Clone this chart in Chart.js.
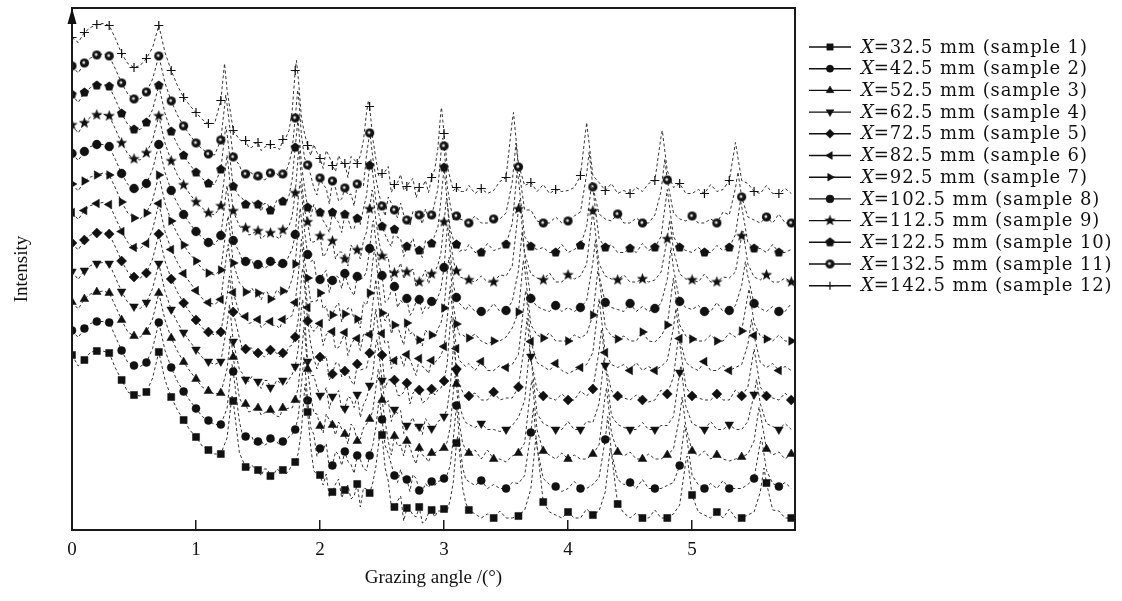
<!DOCTYPE html>
<html>
<head>
<meta charset="utf-8">
<title>Grazing angle scans</title>
<script src="https://cdn.jsdelivr.net/npm/chart.js@4.4.0/dist/chart.umd.min.js"></script>
<style>
  html, body { margin: 0; padding: 0; background: #fff; }
  #wrap { position: relative; width: 1122px; height: 601px; }
</style>
</head>
<body>
<div id="wrap"><canvas id="scanChart" width="1122" height="601"></canvas></div>
<script>
// ===============================
// Data
// ===============================

// grazing angle grid, deg
const angleGrid = [
  0, 0.05, 0.1, 0.15, 0.2, 0.25, 0.3, 0.35, 0.4, 0.45,
  0.5, 0.55, 0.6, 0.65, 0.7, 0.75, 0.8, 0.85, 0.9, 0.95,
  1, 1.05, 1.1, 1.15, 1.2, 1.25, 1.3, 1.35, 1.4, 1.45,
  1.5, 1.55, 1.6, 1.65, 1.7, 1.75, 1.8, 1.85, 1.9, 1.95,
  2, 2.05, 2.1, 2.15, 2.2, 2.25, 2.3, 2.35, 2.4, 2.45,
  2.5, 2.55, 2.6, 2.65, 2.7, 2.75, 2.8, 2.85, 2.9, 2.95,
  3, 3.05, 3.1, 3.15, 3.2, 3.25, 3.3, 3.35, 3.4, 3.45,
  3.5, 3.55, 3.6, 3.65, 3.7, 3.75, 3.8, 3.85, 3.9, 3.95,
  4, 4.05, 4.1, 4.15, 4.2, 4.25, 4.3, 4.35, 4.4, 4.45,
  4.5, 4.55, 4.6, 4.65, 4.7, 4.75, 4.8, 4.85, 4.9, 4.95,
  5, 5.05, 5.1, 5.15, 5.2, 5.25, 5.3, 5.35, 5.4, 5.45,
  5.5, 5.55, 5.6, 5.65, 5.7, 5.75, 5.8
];

// extra readings in the noisy middle range, deg
const midAngles = [
  1.375, 1.425, 1.475, 1.525, 1.575, 1.625, 1.675, 1.725, 1.775, 1.825,
  1.875, 1.925, 1.975, 2.025, 2.075, 2.125, 2.175, 2.225, 2.275, 2.325,
  2.375, 2.425, 2.475, 2.525, 2.575, 2.625, 2.675, 2.725, 2.775, 2.825,
  2.875, 2.925, 2.975, 3.025, 3.075, 3.125, 3.175
];

const angleTicks = [0, 1, 2, 3, 4, 5];

const samplePositions = ["32.5", "42.5", "52.5", "62.5", "72.5", "82.5",
                         "92.5", "102.5", "112.5", "122.5", "132.5", "142.5"];

// vertical shift of each curve (a.u.)
const stackShift = [12, 41.5, 71, 100.5, 130, 159.5, 189, 218.5, 248, 277.5, 307, 336.5];

// intensity of each sample on angleGrid (a.u., before shift)
const intensity1 = [163, 152, 158, 166, 167, 167, 165, 150, 138, 126, 123, 122, 126, 140, 166, 138, 121, 108, 98, 88, 81,
  72, 68, 64, 64, 80, 117, 65, 51, 53, 48,  49, 42, 49, 48, 48, 56, 88, 106, 47, 43,
  44, 26, 39, 28, 19, 34, 30, 25, 51, 83,  37, 11, 22, 10, 3, 11, -3, 8, 7, 9,
  18, 75, 30, 8, 4, 0, 4, 0, 7, 0,  0, 2, 8, 29, 73, 16, 6, 3, 0, 6,
  0, 0, 9, 3, 7, 26, 64, 14, 5, 0,  5, 0, 0, 8, 0, 0, 4, 13, 57, 23,
  6, 3, 0, 6, 0, 9, 0, 0, 3, 6,  26, 35, 8, 7, 0, 0];
const intensity2 = [158, 151, 160, 165, 167, 167, 166, 152, 138, 126, 123, 122, 126, 140, 166, 138, 121, 107, 97, 88, 80,
  72, 68, 64, 64, 80, 117, 67, 52, 52, 47,  43, 50, 47, 47, 52, 59, 104, 88, 54, 40,
  45, 23, 34, 37, 24, 33, 20, 33, 61, 69,  35, 13, 19, 9, 14, -2, 5, 7, 7, 10,
  23, 83, 21, 7, 3, 8, 0, 4, 0, 0,  6, 5, 13, 56, 41, 10, 4, 2, -3, 0,
  7, 0, 0, 4, 11, 49, 36, 9, 4, 6,  0, 9, 0, 0, 0, 3, 6, 23, 57, 13,
  4, 0, 5, 0, 8, 0, 0, 0, 4, 10,  46, 18, 5, 2, 6, 0];
const intensity3 = [157, 150, 160, 165, 167, 168, 166, 153, 139, 127, 123, 122, 127, 140, 166, 139, 121, 108, 97, 88, 80,
  72, 68, 65, 66, 90, 102, 61, 55, 48, 51,  46, 49, 43, 51, 51, 59, 104, 90, 46, 33,
  45, 34, 37, 25, 35, 18, 31, 40, 71, 59,  18, 23, 14, 18, 2, 11, 2, 6, 8, 11,
  32, 75, 16, 6, 9, 0, 9, 0, 0, -3,  3, 6, 16, 73, 29, 8, 4, 0, 6, 0,
  4, 0, 0, 5, 14, 64, 26, 7, 3, 7,  0, 0, 5, 0, 0, 4, 10, 43, 32, 8,
  3, 8, 0, 4, 0, -2, 0, 2, 5, 18,  46, 10, 4, 7, 0, 5];
const intensity4 = [158, 150, 159, 164, 166, 167, 166, 152, 138, 127, 123, 121, 127, 141, 166, 138, 120, 107, 97, 88, 80,
  72, 68, 65, 68, 104, 88, 60, 50, 53, 48,  49, 42, 49, 49, 50, 63, 122, 68, 54, 34,
  42, 33, 39, 21, 31, 35, 25, 44, 85, 49,  29, 20, 19, 4, 12, 3, 11, 1, 8, 13,
  43, 58, 13, 5, 2, 6, 0, 0, -2, 0,  4, 12, 29, 73, 16, 6, 3, 0, 0, 8,
  0, 0, 8, 7, 26, 64, 14, 5, 2, 0,  0, 7, 0, 0, 4, 4, 13, 57, 23, 6,
  3, 0, 8, 0, 0, 5, 0, 0, 8, 35,  26, 6, 3, 0, 6, 0];
const intensity5 = [157, 150, 160, 165, 167, 168, 166, 153, 139, 128, 123, 122, 127, 141, 166, 139, 121, 108, 97, 88, 80,
  72, 68, 65, 68, 104, 88, 62, 51, 52, 47,  43, 50, 47, 47, 53, 63, 122, 79, 42, 43,
  44, 26, 37, 29, 19, 36, 31, 47, 91, 45,  20, 20, 4, 17, 7, 10, -1, 11, 10, 19,
  76, 31, 8, 4, 7, 0, 0, 8, 0, 2,  2, 13, 56, 41, 10, 4, 2, 0, 6, 0,
  0, 9, 4, 11, 49, 36, 9, 4, 2, 0,  5, 0, -2, 0, 10, 6, 23, 57, 13, 4,
  2, 0, 0, 6, 0, 0, 10, 4, 13, 51,  13, 4, 2, 0, 7, 0];
const intensity6 = [158, 151, 160, 165, 167, 168, 166, 153, 139, 128, 123, 122, 127, 141, 167, 139, 121, 108, 97, 88, 80,
  72, 68, 66, 71, 119, 78, 57, 54, 48, 51,  46, 49, 45, 51, 53, 68, 131, 63, 39, 47,
  36, 39, 23, 38, 26, 32, 36, 36, 91, 37,  29, 10, 14, 16, 3, 12, 2, 10, 11, 24,
  84, 22, 7, 7, 0, 9, 0, 0, 5, 3,  6, 16, 73, 29, 8, 4, 0, 7, 0, -3,
  0, 3, 6, 18, 71, 18, 6, 3, 6, 0,  8, 0, 4, 0, 4, 10, 43, 32, 8, 3,
  0, 9, 0, 0, 5, 0, 3, 6, 26, 35,  8, 3, 7, 0, 4, 0];
const intensity7 = [157, 150, 160, 164, 166, 168, 166, 153, 139, 128, 123, 122, 128, 141, 166, 138, 120, 107, 96, 87, 80,
  72, 68, 66, 71, 119, 78, 58, 49, 53, 48,  49, 42, 51, 50, 53, 77, 122, 63, 40, 48,
  35, 26, 38, 27, 33, 22, 39, 48, 85, 28,  28, 16, 5, 18, 9, 1, 11, 6, 12, 33,
  76, 17, 6, 3, 7, 0, -3, 0, 0, 4,  13, 29, 73, 16, 6, 3, 8, 0, 0, 0,
  6, 3, 7, 26, 64, 14, 5, 2, 5, 0,  0, 9, 0, -1, 5, 16, 63, 16, 5, 2,
  0, 0, 6, 0, 0, 8, 4, 10, 46, 18,  5, 2, 0, 6, 0, 0];
const intensity8 = [158, 151, 160, 165, 167, 167, 165, 152, 138, 127, 123, 122, 128, 142, 167, 139, 121, 108, 97, 88, 80,
  74, 69, 67, 76, 126, 71, 59, 50, 52, 47,  43, 50, 49, 48, 56, 77, 122, 57, 52, 32,
  41, 31, 34, 38, 21, 35, 34, 63, 71, 36,  12, 25, 11, 13, 1, 12, 5, 10, 14, 44,
  59, 14, 5, 7, 0, 0, 0, 8, 0, 1,  10, 41, 56, 13, 5, 2, 0, 6, 0, 4,
  0, 4, 11, 49, 36, 9, 4, 2, 0, 8,  0, 5, 0, 3, 8, 32, 43, 10, 4, 2,
  6, 0, 0, 9, 0, 1, 6, 26, 35, 8,  3, 0, 5, 0, 0, 8];
const intensity9 = [157, 149, 159, 165, 167, 168, 166, 153, 139, 128, 123, 122, 129, 142, 166, 139, 121, 107, 97, 88, 80,
  74, 69, 67, 76, 126, 71, 56, 54, 48, 51,  46, 49, 45, 52, 56, 89, 104, 60, 40, 46,
  29, 41, 30, 23, 37, 32, 41, 73, 62, 26,  25, 9, 19, 10, 13, 0, 12, 8, 17, 60,
  43, 11, 4, 2, 0, 6, 0, 0, 7, 6,  16, 73, 29, 8, 4, 2, 9, 0, 0, 7,
  3, 6, 18, 71, 18, 6, 3, 2, 7, 0,  0, 3, 0, 2, 10, 43, 32, 8, 3, 2,
  0, 8, 0, 0, 5, 4, 10, 46, 18, 5,  2, 7, 0, 0, 4, 0];
const intensity10 = [158, 150, 160, 165, 167, 168, 166, 153, 139, 128, 123, 123, 130, 143, 167, 139, 121, 108, 97, 88, 80,
  74, 69, 68, 83, 119, 66, 56, 48, 51, 48,  49, 42, 52, 51, 57, 105, 88, 45, 48, 40,
  27, 40, 30, 38, 24, 34, 44, 87, 52, 26,  11, 23, 14, 6, 14, 2, 12, 9, 25, 85,
  23, 8, 3, 8, 0, 0, 9, 2, 4, 8,  29, 73, 16, 6, 3, 5, 0, 0, 8, 0,
  3, 7, 26, 64, 14, 5, 8, 0, 0, 4,  0, 9, 2, 5, 16, 63, 16, 5, 2, 0,
  5, 0, 0, 7, 2, 5, 18, 46, 10, 4,  4, 0, 8, 0, 0, 3];
const intensity11 = [157, 150, 160, 165, 168, 169, 167, 154, 140, 129, 124, 124, 131, 144, 167, 140, 122, 108, 97, 88, 80,
  74, 69, 68, 83, 119, 66, 58, 49, 50, 47,  43, 50, 50, 49, 60, 105, 88, 58, 35, 45,
  35, 42, 22, 35, 29, 39, 37, 90, 45, 17,  26, 13, 20, 3, 12, 8, 14, 8, 34, 77,
  18, 7, 3, 0, 7, 0, 0, 4, 4, 10,  41, 56, 13, 13, 2, 0, 0, 6, 0, 2,
  7, 11, 49, 36, 9, 4, 2, 9, 0, 0,  5, 0, 0, 8, 32, 43, 10, 4, 2, 7,
  0, 0, 4, 0, 11, 8, 35, 26, 6, 3,  0, 6, 0, 9, 0, 0];
const intensity12 = [156, 151, 161, 166, 169, 170, 168, 155, 140, 130, 126, 128, 135, 146, 168, 141, 123, 108, 96, 88, 81,
  74, 70, 70, 93, 104, 63, 54, 53, 46, 51,  46, 49, 46, 54, 63, 123, 76, 48, 49, 35,
  43, 28, 38, 30, 37, 30, 53, 87, 35, 20,  27, 9, 19, 7, 15, 6, 13, 16, 45, 60,
  15, 6, 2, 8, 0, 5, 0, 3, 12, 16,  73, 29, 8, 11, 2, 9, 0, 4, 2, 3,
  6, 18, 71, 18, 11, 3, 10, 0, 3, 0,  6, 2, 10, 13, 57, 23, 6, 10, 0, 0,
  4, 0, 9, 2, 4, 13, 51, 13, 10, 2,  0, 8, 0, 0, 5, 0];

// intensity of each sample on midAngles (a.u., before shift)
const midIntensity1 = [58, 49, 49, 42, 49, 43, 47, 44, 53, 65, 128, 71, 44, 33, 21, 34, 20, 33, 22, 11, 29, 35, 77, 50, 11, 17, -3, 8, 1, -5, 5, 1, 7, 7, 36, 66, 15];
const midIntensity2 = [53, 53, 44, 48, 45, 49, 43, 47, 54, 72, 128, 61, 32, 39, 20, 37, 23, 27, 15, 29, 18, 43, 88, 43, 24, 6, 8, -3, 10, -3, 1, 3, 8, 14, 50, 48, 9];
const midIntensity3 = [55, 47, 51, 44, 48, 45, 42, 50, 51, 72, 128, 64, 45, 26, 39, 24, 30, 15, 31, 20, 35, 48, 88, 38, 4, 13, 3, 12, -5, 4, -3, 6, 9, 17, 67, 34, 9];
const midIntensity4 = [56, 48, 49, 41, 49, 43, 47, 45, 55, 81, 114, 54, 42, 33, 21, 35, 19, 33, 22, 12, 31, 55, 77, 25, 8, 16, -4, 7, 1, -5, 6, 2, 10, 21, 81, 25, 7];
const midIntensity5 = [51, 52, 44, 47, 45, 49, 43, 47, 55, 81, 114, 56, 31, 39, 20, 37, 23, 27, 15, 30, 32, 66, 64, 12, 21, 5, 8, -4, 10, -3, 2, 5, 12, 36, 67, 15, 3];
const midIntensity6 = [53, 47, 50, 43, 48, 45, 42, 51, 55, 96, 96, 44, 43, 25, 38, 22, 30, 15, 31, 20, 38, 66, 64, 27, 2, 12, 4, 11, -5, 4, -3, 8, 15, 51, 50, 10, 4];
const midIntensity7 = [55, 48, 48, 41, 49, 43, 48, 47, 62, 114, 81, 39, 40, 32, 20, 34, 19, 33, 22, 13, 36, 79, 53, 20, 7, 16, -4, 7, 1, -5, 7, 4, 18, 68, 36, 6, 4];
const midIntensity8 = [50, 51, 43, 47, 45, 49, 44, 49, 62, 114, 81, 50, 30, 38, 19, 36, 23, 27, 16, 32, 40, 90, 46, 9, 21, 4, 8, -4, 10, -2, 3, 7, 23, 82, 27, 8, 1];
const midIntensity9 = [52, 47, 50, 43, 48, 45, 43, 53, 66, 128, 72, 40, 42, 25, 38, 23, 30, 16, 32, 23, 50, 90, 41, 24, 1, 11, 3, 11, -5, 5, -2, 10, 29, 82, 21, 5, 3];
const midIntensity10 = [54, 47, 48, 41, 49, 44, 49, 49, 73, 129, 65, 36, 40, 32, 20, 34, 20, 34, 24, 28, 57, 79, 38, 18, 6, 15, -4, 8, 1, -5, 9, 17, 52, 51, 13, 1, 2];
const midIntensity11 = [49, 51, 43, 47, 45, 50, 45, 51, 73, 129, 65, 48, 28, 38, 19, 35, 24, 28, 17, 36, 68, 66, 29, 7, 20, 5, 8, -3, 11, -1, 5, 20, 70, 37, 3, 4, 0];
const midIntensity12 = [52, 46, 50, 43, 48, 46, 44, 56, 82, 115, 60, 38, 41, 25, 37, 22, 31, 16, 34, 38, 81, 55, 17, 22, 1, 11, 3, 12, -4, 6, 1, 24, 83, 28, 3, 2, 2];

// Bragg peak tips of each sample: angle (deg) and intensity (a.u., before shift)
const peakAngle1 = [1.29, 1.88, 2.49, 3.11, 3.74, 4.34, 4.96, 5.58];
const peakAngle2 = [1.29, 1.87, 2.48, 3.10, 3.72, 4.32, 4.94, 5.56];
const peakAngle3 = [1.28, 1.87, 2.47, 3.09, 3.71, 4.31, 4.92, 5.54];
const peakAngle4 = [1.27, 1.86, 2.46, 3.08, 3.69, 4.29, 4.91, 5.52];
const peakAngle5 = [1.27, 1.86, 2.45, 3.06, 3.67, 4.27, 4.89, 5.50];
const peakAngle6 = [1.26, 1.85, 2.45, 3.05, 3.66, 4.25, 4.87, 5.48];
const peakAngle7 = [1.26, 1.84, 2.44, 3.04, 3.64, 4.24, 4.85, 5.46];
const peakAngle8 = [1.25, 1.84, 2.43, 3.03, 3.63, 4.22, 4.83, 5.43];
const peakAngle9 = [1.25, 1.83, 2.42, 3.02, 3.61, 4.20, 4.82, 5.41];
const peakAngle10 = [1.24, 1.82, 2.41, 3.00, 3.59, 4.19, 4.80, 5.39];
const peakAngle11 = [1.24, 1.82, 2.40, 2.99, 3.58, 4.17, 4.78, 5.37];
const peakAngle12 = [1.23, 1.81, 2.39, 2.98, 3.56, 4.15, 4.76, 5.35];

const peakTop1 = [122, 134, 88, 82, 80, 70, 62, 50];
const peakTop2 = [124, 131, 89, 84, 81, 72, 63, 51];
const peakTop3 = [123, 132, 90, 83, 79, 71, 62, 52];
const peakTop4 = [125, 130, 90, 85, 81, 70, 64, 50];
const peakTop5 = [124, 132, 91, 84, 82, 71, 63, 51];
const peakTop6 = [126, 131, 90, 83, 80, 72, 62, 51];
const peakTop7 = [125, 133, 92, 84, 81, 70, 63, 52];
const peakTop8 = [126, 130, 91, 85, 80, 71, 64, 50];
const peakTop9 = [127, 132, 92, 84, 82, 72, 62, 51];
const peakTop10 = [126, 131, 93, 86, 81, 70, 63, 52];
const peakTop11 = [128, 133, 92, 85, 80, 71, 64, 51];
const peakTop12 = [130, 133, 93, 86, 81, 71, 63, 51];

const intensities = [intensity1, intensity2, intensity3, intensity4, intensity5, intensity6,
                     intensity7, intensity8, intensity9, intensity10, intensity11, intensity12];
const midIntensities = [midIntensity1, midIntensity2, midIntensity3, midIntensity4, midIntensity5, midIntensity6,
                        midIntensity7, midIntensity8, midIntensity9, midIntensity10, midIntensity11, midIntensity12];
const peakAngles = [peakAngle1, peakAngle2, peakAngle3, peakAngle4, peakAngle5, peakAngle6,
                    peakAngle7, peakAngle8, peakAngle9, peakAngle10, peakAngle11, peakAngle12];
const peakTops = [peakTop1, peakTop2, peakTop3, peakTop4, peakTop5, peakTop6,
                  peakTop7, peakTop8, peakTop9, peakTop10, peakTop11, peakTop12];

// ===============================
// Marker symbols
// ===============================
function markerCanvas(kind) {
  const c = document.createElement("canvas");
  c.width = 13; c.height = 13;
  const g = c.getContext("2d");
  g.fillStyle = "#111";
  g.translate(6.5, 6.5);
  g.beginPath();
  if (kind === "star") {
    for (let i = 0; i < 10; i++) {
      const r = i % 2 === 0 ? 6 : 2.5;
      const a = -Math.PI / 2 + i * Math.PI / 5;
      g.lineTo(r * Math.cos(a), r * Math.sin(a));
    }
    g.closePath(); g.fill();
  } else if (kind === "pentagon") {
    for (let i = 0; i < 5; i++) {
      const a = -Math.PI / 2 + i * 2 * Math.PI / 5;
      g.lineTo(4.9 * Math.cos(a), 4.9 * Math.sin(a));
    }
    g.closePath(); g.fill();
  } else {
    g.arc(0, 0, 4.6, 0, Math.PI * 2); g.fill();
    g.fillStyle = "#ddd";
    g.beginPath(); g.arc(-0.6, -0.6, 1.5, 0, Math.PI * 2); g.fill();
  }
  return c;
}

const markerStyle = ["rect", "circle", "triangle", "triangle", "rectRot", "triangle",
                     "triangle", "circle", markerCanvas("star"), markerCanvas("pentagon"),
                     markerCanvas("shaded"), "cross"];
const markerRotation = [0, 0, 0, 180, 0, 270, 90, 0, 0, 0, 0, 0];
const markerRadius = [5, 4, 5, 5, 5, 5, 5, 4.4, 6, 5, 5, 4.5];

// markers every 0.1 deg, thinning out to every 0.2 deg beyond 3.2 deg
function showMarker(i, k) {
  if (i % 2 !== 0) return false;
  if (angleGrid[i] < 3.2) return true;
  return i % 4 === (k % 2) * 2;
}

function buildPoints(k) {
  const shift = stackShift[k];
  const pts = angleGrid.map((a, i) => ({ x: a, y: intensities[k][i] + shift, m: showMarker(i, k) }));
  midAngles.forEach((a, j) => pts.push({ x: a, y: midIntensities[k][j] + shift, m: false }));
  peakAngles[k].forEach((a, j) => pts.push({ x: a, y: peakTops[k][j] + shift, m: false }));
  pts.sort((p, q) => p.x - q.x);
  return pts;
}

const datasets = intensities.map((vals, k) => ({
  label: "X=" + samplePositions[k] + " mm (sample " + (k + 1) + ")",
  data: buildPoints(k),
  borderColor: "#333",
  borderWidth: 1,
  borderDash: [3, 2.5],
  tension: 0,
  fill: false,
  pointStyle: markerStyle[k],
  pointRotation: markerRotation[k],
  pointRadius: ctx => (ctx.raw && ctx.raw.m ? markerRadius[k] : 0),
  pointBackgroundColor: "#111",
  pointBorderColor: "#111",
  pointBorderWidth: k === 11 ? 1.2 : 0.5
}));

// ===============================
// Frame, arrow and legend
// ===============================
const framePlugin = {
  id: "frame",
  afterDatasetsDraw(chart) {
    const { ctx, chartArea: a } = chart;
    ctx.save();
    ctx.strokeStyle = "#1a1a1a";
    ctx.lineWidth = 2;
    ctx.setLineDash([]);
    ctx.strokeRect(a.left, a.top, a.right - a.left, a.bottom - a.top);
    // y axis arrow
    ctx.fillStyle = "#111";
    ctx.beginPath();
    ctx.moveTo(a.left, a.top);
    ctx.lineTo(a.left - 4.5, a.top + 16);
    ctx.lineTo(a.left + 4.5, a.top + 16);
    ctx.closePath();
    ctx.fill();
    ctx.restore();
  }
};

const legendPlugin = {
  id: "sampleLegend",
  afterDraw(chart) {
    const ctx = chart.ctx;
    ctx.save();
    chart.data.datasets.forEach((ds, i) => {
      const y = 47 + i * 21.7;
      ctx.setLineDash([]);
      ctx.strokeStyle = "#111";
      ctx.lineWidth = 1.4;
      ctx.beginPath(); ctx.moveTo(809, y); ctx.lineTo(851, y); ctx.stroke();
      ctx.fillStyle = "#111";
      ctx.lineWidth = i === 11 ? 1.2 : 0.5;
      if (Chart.helpers && Chart.helpers.drawPoint) {
        Chart.helpers.drawPoint(ctx, {
          pointStyle: markerStyle[i], rotation: markerRotation[i],
          radius: markerRadius[i] * 0.9, borderWidth: ctx.lineWidth
        }, 830, y);
      }
      ctx.fillStyle = "#111";
      ctx.textBaseline = "middle";
      ctx.font = 'italic 18px "DejaVu Serif"';
      if ("letterSpacing" in ctx) ctx.letterSpacing = "0px";
      ctx.fillText("X", 861, y + 1);
      const xw = ctx.measureText("X").width;
      ctx.font = '18px "DejaVu Serif"';
      if ("letterSpacing" in ctx) ctx.letterSpacing = "0.9px";
      ctx.fillText("=" + samplePositions[i] + " mm (sample " + (i + 1) + ")", 861 + xw, y + 1);
    });
    ctx.restore();
  }
};

new Chart(document.getElementById("scanChart"), {
  type: "line",
  data: { datasets },
  options: {
    responsive: false,
    animation: false,
    events: [],
    layout: { padding: { left: 0, right: 327, top: 8, bottom: 0 } },
    plugins: { legend: { display: false }, tooltip: { enabled: false } },
    scales: {
      x: {
        type: "linear",
        min: 0,
        max: 5.83,
        afterBuildTicks: s => { s.ticks = angleTicks.map(v => ({ value: v })); },
        afterFit: s => { s.height = 71; },
        border: { display: false },
        grid: { drawOnChartArea: false, tickLength: -10, color: "#1a1a1a", lineWidth: 1.5 },
        ticks: {
          padding: 19, color: "#111",
          font: { family: "Liberation Serif", size: 19 },
          callback: v => String(v)
        },
        title: {
          display: true, text: "Grazing angle /(°)", color: "#111",
          font: { family: "Liberation Serif", size: 19 },
          padding: { top: 0, bottom: 12 }
        }
      },
      y: {
        min: 0,
        max: 522,
        afterFit: s => { s.width = 72; },
        border: { display: false },
        grid: { display: false },
        ticks: { display: false },
        title: {
          display: true, text: "Intensity", color: "#111",
          font: { family: "Liberation Serif", size: 19 },
          padding: { top: 11, bottom: 0 }
        }
      }
    }
  },
  plugins: [framePlugin, legendPlugin]
});
</script>
</body>
</html>
